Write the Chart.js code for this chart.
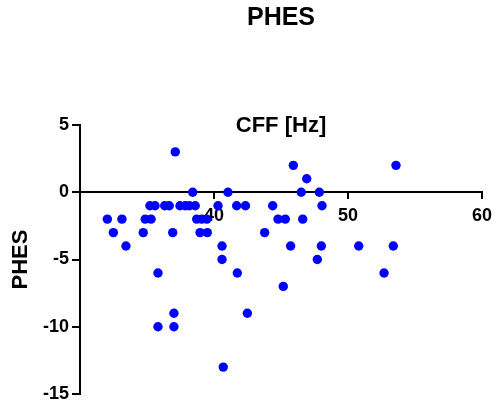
<!DOCTYPE html>
<html>
<head>
<meta charset="utf-8">
<script src="https://cdn.jsdelivr.net/npm/chart.js@4/dist/chart.umd.min.js"></script>
<style>
  html, body { margin: 0; padding: 0; background: #ffffff; }
  #c { display: block; }
</style>
</head>
<body>
<canvas id="c" width="494" height="402"></canvas>
<script>
const chartTitle = "PHES";
const xAxisTitle = "CFF [Hz]";
const yAxisTitle = "PHES";
const xTickValues = [30, 40, 50, 60];
const yTickValues = [-15, -10, -5, 0, 5];

const cff = [
  37.11,
  45.92, 53.58,
  46.92,
  38.41, 41.04, 46.51, 47.86,
  35.22, 35.60, 36.32, 36.66, 37.46, 37.86, 38.16, 38.60, 40.30, 41.69, 42.35, 44.38, 48.06,
  32.04, 33.13, 34.87, 35.30, 38.71, 39.08, 39.46, 44.78, 45.32, 46.62,
  32.49, 34.72, 36.92, 38.96, 39.50, 43.78,
  33.43, 40.60, 45.72, 48.01, 50.80, 53.38,
  40.60, 47.71,
  35.82, 41.74, 52.69,
  45.17,
  37.01, 42.49,
  35.82, 37.01,
  40.69
];
const phes = [
  3,
  2, 2,
  1,
  0, 0, 0, 0,
  -1, -1, -1, -1, -1, -1, -1, -1, -1, -1, -1, -1, -1,
  -2, -2, -2, -2, -2, -2, -2, -2, -2, -2,
  -3, -3, -3, -3, -3, -3,
  -4, -4, -4, -4, -4, -4,
  -5, -5,
  -6, -6, -6,
  -7,
  -9, -9,
  -10, -10,
  -13
];

const points = cff.map((x, i) => ({ x: x, y: phes[i] }));
const FONT = "'Liberation Sans', Arial, sans-serif";

new Chart(document.getElementById('c'), {
  type: 'scatter',
  data: {
    datasets: [{
      data: points,
      backgroundColor: '#0000ff',
      borderColor: '#0000ff',
      borderWidth: 0,
      pointRadius: 4.7,
      pointHoverRadius: 4.7
    }]
  },
  options: {
    responsive: false,
    animation: false,
    layout: { padding: { left: 0, right: 12, top: 0, bottom: 8 } },
    plugins: {
      legend: { display: false },
      tooltip: { enabled: false },
      title: {
        display: true,
        text: chartTitle,
        fullSize: false,
        color: '#000',
        font: { family: FONT, size: 25, weight: 'bold', lineHeight: 1.2 },
        padding: { top: 3, bottom: 79.8 }
      },
      subtitle: {
        display: true,
        text: xAxisTitle,
        fullSize: false,
        color: '#000',
        font: { family: FONT, size: 22, weight: 'bold', lineHeight: 1.2 },
        padding: { top: 0, bottom: -14.2 }
      }
    },
    scales: {
      x: {
        type: 'linear',
        position: { y: 0 },
        min: 30,
        max: 60,
        afterFit: s => { s.height = 0; s.paddingLeft = 0; s.paddingRight = 0; },
        afterBuildTicks: s => { s.ticks = xTickValues.map(v => ({ value: v })); },
        ticks: {
          color: '#000',
          padding: 9,
          font: { family: FONT, size: 18, weight: 'bold', lineHeight: 1 },
          callback: v => (v === xTickValues[0] ? '' : String(v))
        },
        grid: { drawOnChartArea: false, drawTicks: true, tickLength: 6, color: '#000', lineWidth: 2 },
        border: { display: true, color: '#000', width: 2 }
      },
      y: {
        type: 'linear',
        min: -15,
        max: 5,
        afterFit: s => { s.width = 80; s.paddingBottom = 0; s.paddingTop = 0; },
        afterBuildTicks: s => { s.ticks = yTickValues.map(v => ({ value: v })); },
        ticks: {
          color: '#000',
          padding: 3,
          font: { family: FONT, size: 18, weight: 'bold', lineHeight: 1 },
          callback: v => String(v)
        },
        title: {
          display: true,
          text: yAxisTitle,
          color: '#000',
          font: { family: FONT, size: 22, weight: 'bold', lineHeight: 1 },
          padding: { top: 10, bottom: 0 }
        },
        grid: { drawOnChartArea: false, drawTicks: true, tickLength: 8, color: '#000', lineWidth: 2 },
        border: { display: true, color: '#000', width: 2 }
      }
    }
  }
});
</script>
</body>
</html>
